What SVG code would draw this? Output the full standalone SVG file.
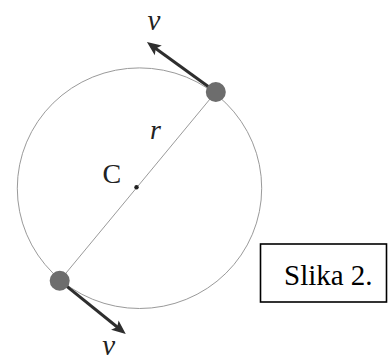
<svg xmlns="http://www.w3.org/2000/svg" width="388" height="356" viewBox="0 0 388 356">
<style>
.thin{fill:none;stroke:#9a9a9a;stroke-width:1}
.vel{stroke:#2e2e2e;stroke-width:3;fill:none}
.ball{fill:#6d6d6d}
.serif{font-family:"Liberation Serif","Times New Roman",serif}
</style>
<defs>
<marker id="ah" markerUnits="userSpaceOnUse" markerWidth="16" markerHeight="14" refX="8" refY="7" orient="auto" viewBox="0 0 16 14">
<path d="M1,1 L15,7 L1,13 L4,7 z" fill="#2e2e2e"/>
</marker>
</defs>
<g id="circle">
<ellipse class="thin" cx="139.5" cy="188.2" rx="122.2" ry="120.3"/>
</g>
<g id="connectors">
<line id="radius" class="thin" x1="59.7" y1="280.7" x2="215.8" y2="92"/>
<line id="v-top" class="vel" x1="215.8" y1="92" x2="152.6" y2="46.2" marker-end="url(#ah)"/>
<line id="v-bottom" class="vel" x1="59.7" y1="280.7" x2="120.3" y2="329.5" marker-end="url(#ah)"/>
</g>
<g id="ball-top"><circle class="ball" cx="215.8" cy="92" r="10"/></g>
<g id="ball-bottom"><circle class="ball" cx="59.7" cy="280.7" r="10"/></g>
<g id="center" class="serif" fill="#222">
<circle cx="136.5" cy="187.3" r="2.2"/>
<text x="102.5" y="183" font-size="28">C</text>
</g>
<g id="labels" class="serif" font-style="italic" fill="#222">
<text x="150" y="138.5" font-size="28">r</text>
<text x="154" y="29.5" font-size="29" text-anchor="middle">v</text>
<text x="108.7" y="354.5" font-size="29" text-anchor="middle">v</text>
</g>
<g id="caption">
<rect x="260.5" y="244" width="126" height="58" fill="#fff" stroke="#000" stroke-width="1.6"/>
<text class="serif" x="284" y="285" font-size="29" fill="#000">Slika 2.</text>
</g>
</svg>
